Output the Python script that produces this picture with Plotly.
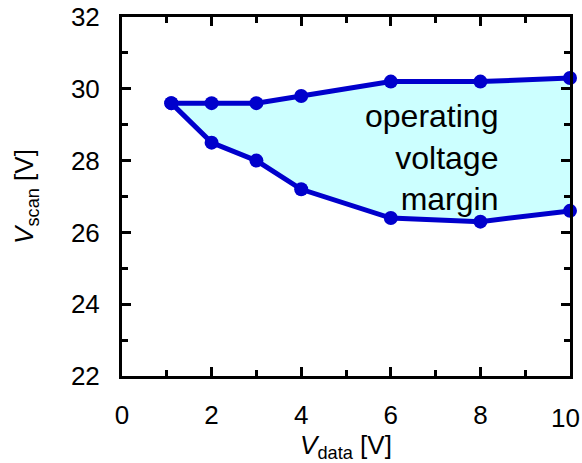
import plotly.graph_objects as go

x_upper = [1.1, 2, 3, 4, 6, 8, 10]
v_upper = [29.6, 29.6, 29.6, 29.8, 30.2, 30.2, 30.3]
x_lower = [1.1, 2, 3, 4, 6, 8, 10]
v_lower = [29.6, 28.5, 28.0, 27.2, 26.4, 26.3, 26.6]

x_ticks = [0, 2, 4, 6, 8, 10]
y_ticks = [22, 24, 26, 28, 30, 32]

line_color = "#0000cc"
fill_color = "#ccffff"
font = "Liberation Sans, Arial, sans-serif"
tick_size = 26

fig = go.Figure()
fig.add_trace(go.Scatter(
    x=x_upper + x_lower[::-1], y=v_upper + v_lower[::-1],
    fill="toself", fillcolor=fill_color, mode="none", hoverinfo="skip", showlegend=False))
for xs, ys in [(x_upper, v_upper), (x_lower, v_lower)]:
    fig.add_trace(go.Scatter(
        x=xs, y=ys, mode="lines+markers",
        line=dict(color=line_color, width=5),
        marker=dict(color=line_color, size=14),
        cliponaxis=False, showlegend=False))

fig.add_annotation(x=8.44, y=28.1, text="operating<br>voltage<br>margin",
                   showarrow=False, font=dict(family=font, size=32, color="black"),
                   align="right", xanchor="right", yanchor="middle")

# last x tick label, nudged inward so it stays inside the page
fig.add_annotation(x=x_ticks[-1], y=y_ticks[0], text=str(x_ticks[-1]),
                   showarrow=False, font=dict(family=font, size=tick_size, color="black"),
                   xanchor="center", yanchor="top", xshift=-5, yshift=-25)

axis_common = dict(
    showline=True, linecolor="black", linewidth=3, mirror="allticks",
    ticks="inside", ticklen=9, tickwidth=3, tickcolor="black",
    showgrid=False, zeroline=False, automargin=False,
    tickfont=dict(family=font, size=tick_size, color="black"),
    ticklabelstandoff=14,
    minor=dict(ticks="inside", ticklen=6, tickwidth=3, tickcolor="black", dtick=1, showgrid=False),
)

fig.update_xaxes(range=[0, 10], tickmode="array", tickvals=x_ticks,
                 ticktext=[str(v) for v in x_ticks[:-1]] + [""],
                 title=dict(text="<i>V</i><sub>data</sub> [V]",
                            font=dict(family=font, size=26, color="black"), standoff=4),
                 **axis_common)
fig.update_yaxes(range=[22, 32], tickmode="array", tickvals=y_ticks,
                 title=dict(text="<i>V</i><sub>scan</sub> [V]",
                            font=dict(family=font, size=26, color="black"), standoff=30),
                 **axis_common)

fig.update_layout(
    width=582, height=463,
    margin=dict(l=122, r=12, t=17, b=87),
    plot_bgcolor="white", paper_bgcolor="white",
)

fig.write_html("out.html")
